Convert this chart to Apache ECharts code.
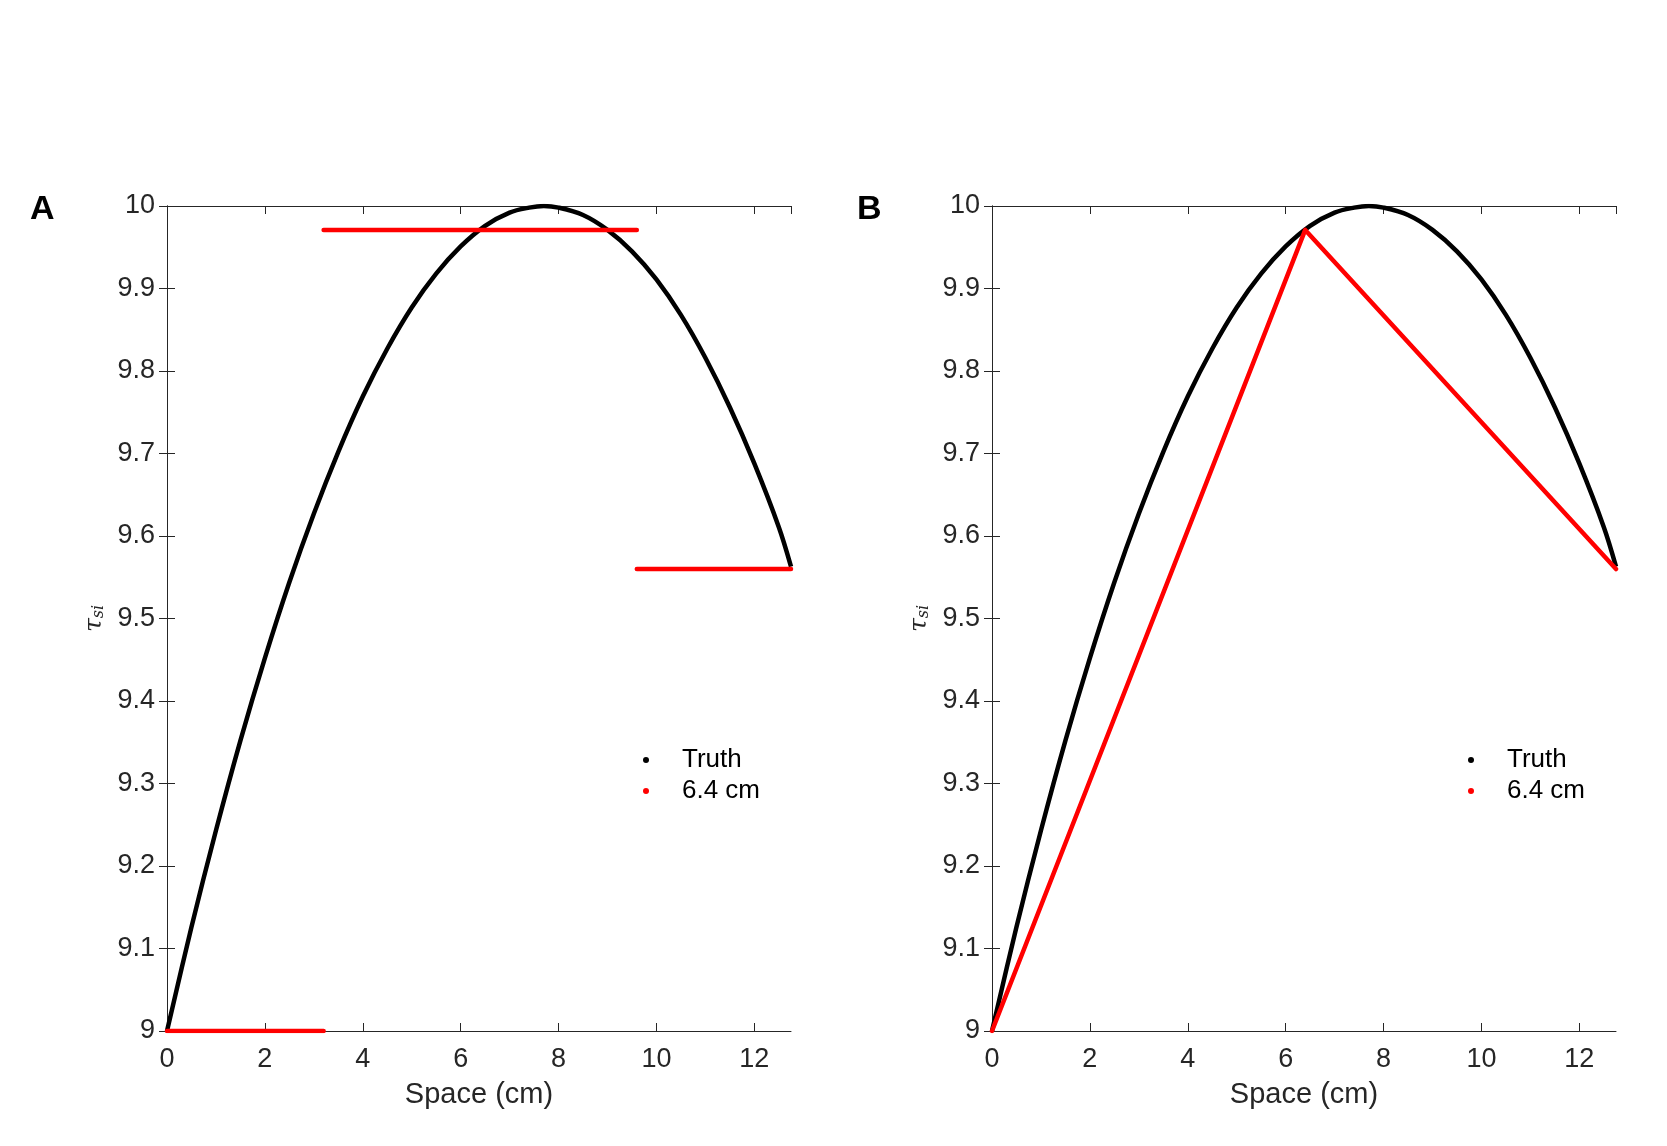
<!DOCTYPE html>
<html>
<head>
<meta charset="utf-8">
<script src="https://cdn.jsdelivr.net/npm/echarts@6/dist/echarts.min.js"></script>
<style>
  html, body { margin: 0; padding: 0; background: #fff; }
  #chart { width: 1667px; height: 1146px; }
</style>
</head>
<body>
<div id="chart"></div>
<script>
// Truth profile
var truthX = [0, 0.5, 1, 1.5, 2, 2.5, 3, 3.5, 4, 4.5, 5, 5.5, 6, 6.5, 7, 7.4, 7.7, 8.0, 8.5, 9, 9.5, 10, 10.5, 11, 11.5, 12, 12.5, 12.75];
var truthY = [9.000, 9.126, 9.243, 9.352, 9.452, 9.544, 9.627, 9.702, 9.769, 9.827, 9.877, 9.918, 9.951, 9.976, 9.992, 9.998, 10.000, 9.998, 9.989, 9.971, 9.945, 9.911, 9.868, 9.816, 9.756, 9.688, 9.611, 9.563];

// Panel A: piecewise constant estimate (6.4 cm spacing)
var segStart = [0, 3.2, 9.6];
var segEnd = [3.2, 9.6, 12.75];
var segValue = [9.0, 9.971, 9.56];

// Panel B: piecewise linear estimate through the nodes
var nodeX = [0, 6.4, 12.75];
var nodeY = [9.0, 9.971, 9.56];

var xTicks = [0, 2, 4, 6, 8, 10, 12];
var panelLabels = ['A', 'B'];
var estName = '6.4 cm';

var ink = '#262626';
var font = 'Liberation Sans';
var gridLeft = [167, 992];

var chart = echarts.init(document.getElementById('chart'), null, { renderer: 'canvas' });

function pairs(xs, ys) {
  return xs.map(function(x, i) { return [x, ys[i]]; });
}

// ticks point into the plot box (matlab style)
var tick = { inside: false, length: -8, lineStyle: { color: ink, width: 1 } };

var grids = [], xAxes = [], yAxes = [], series = [], legends = [], titles = [];

gridLeft.forEach(function(left, p) {
  grids.push({ left: left, top: 206, width: 624, height: 825 });

  var xBase = {
    type: 'value', gridIndex: p, min: 0, max: 12.75, interval: 2,
    axisLine: { lineStyle: { color: ink, width: 1 } },
    axisTick: tick,
    splitLine: { show: false }
  };
  xAxes.push(Object.assign({}, xBase, {
    position: 'bottom',
    name: 'Space (cm)', nameLocation: 'middle', nameGap: 49,
    nameTextStyle: { fontFamily: font, fontSize: 29, color: ink },
    axisLabel: {
      fontFamily: font, fontSize: 27, color: ink, margin: 15, showMaxLabel: false,
      formatter: function(v) { return xTicks.indexOf(Math.round(v * 100) / 100) >= 0 ? String(v) : ''; }
    }
  }));
  xAxes.push(Object.assign({}, xBase, { position: 'top', axisLabel: { show: false } }));

  var yBase = {
    type: 'value', gridIndex: p, min: 9, max: 10, interval: 0.1,
    axisLine: { lineStyle: { color: ink, width: 1 } },
    axisTick: tick,
    splitLine: { show: false }
  };
  yAxes.push(Object.assign({}, yBase, {
    position: 'left',
    name: '{t|τ}{s|si}', nameLocation: 'middle', nameGap: 60, nameRotate: 90,
    nameTextStyle: {
      rich: {
        t: { fontFamily: 'DejaVu Serif', fontStyle: 'italic', fontSize: 25, color: ink },
        s: { fontFamily: 'DejaVu Serif', fontStyle: 'italic', fontSize: 16, color: ink, padding: [10, 0, 0, 0] }
      }
    },
    axisLabel: {
      fontFamily: font, fontSize: 27, color: ink, margin: 12,
      formatter: function(v) { return String(Math.round(v * 10) / 10); }
    }
  }));
  yAxes.push(Object.assign({}, yBase, { position: 'right', axisLabel: { show: false } }));

  var xi = p * 2, yi = p * 2;

  series.push({
    name: 'Truth', type: 'line', xAxisIndex: xi, yAxisIndex: yi,
    data: pairs(truthX, truthY), smooth: 0.35, showSymbol: false,
    lineStyle: { color: '#000', width: 4.5 }, itemStyle: { color: '#000' },
    animation: false, z: 2
  });

  if (p === 0) {
    segStart.forEach(function(s, i) {
      series.push({
        name: estName, type: 'line', xAxisIndex: xi, yAxisIndex: yi,
        data: [[s, segValue[i]], [segEnd[i], segValue[i]]], showSymbol: false,
        lineStyle: { color: '#ff0000', width: 4.5, cap: 'round' }, itemStyle: { color: '#ff0000' },
        animation: false, z: 3
      });
    });
  } else {
    series.push({
      name: estName, type: 'line', xAxisIndex: xi, yAxisIndex: yi,
      data: pairs(nodeX, nodeY), showSymbol: false,
      lineStyle: { color: '#ff0000', width: 4.5, cap: 'round', join: 'round' }, itemStyle: { color: '#ff0000' },
      animation: false, z: 3
    });
  }

  legends.push({
    left: left + 471, top: 742, orient: 'vertical',
    icon: 'circle', itemWidth: 6, itemHeight: 6, itemGap: 5,
    selectedMode: false,
    data: [
      { name: 'Truth', itemStyle: { color: '#000' } },
      { name: estName, itemStyle: { color: '#ff0000' } }
    ],
    textStyle: { fontFamily: font, fontSize: 26, color: '#000', lineHeight: 26, padding: [0, 0, 0, 28] }
  });

  titles.push({
    text: panelLabels[p], left: p === 0 ? 25 : 852, top: 188,
    textStyle: { fontFamily: font, fontWeight: 'bold', fontSize: 34, color: '#000' }
  });
});

chart.setOption({
  animation: false,
  backgroundColor: '#fff',
  title: titles,
  legend: legends,
  grid: grids,
  xAxis: xAxes,
  yAxis: yAxes,
  series: series
});
window.addEventListener('resize', function() { chart.resize(); });
</script>
</body>
</html>
